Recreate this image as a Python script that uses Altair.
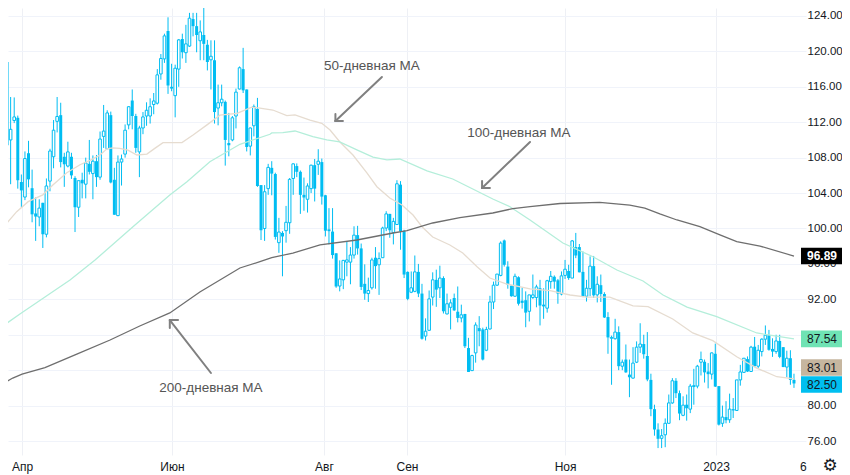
import altair as alt
import pandas as pd

highs = [121.4,120.9,118.8,114.85,114.8,112.75,106.1,108.7,109.9,106.65,
103.5,103.3,102.9,105.65,109,112.25,114.85,114.2,108.55,109.8,
108.55,105.9,105.4,106.3,108,110,108.25,108.3,110.95,113.95,
113.35,113.2,106.85,108.25,108.35,111.75,113.8,115.7,112.95,111.6,
113.15,114.25,114.7,115.3,118,119.7,122,123.85,118.6,118.5,
121.4,122,123,124.35,124.35,124.35,123.5,125.15,121.3,121.25,
121.25,116.25,116.25,114.45,113.05,112.7,115.8,118.3,120.4,115.7,
111.4,114,114.75,104.9,104.9,107.3,107.6,106.3,101.2,99.7,
102.55,105.7,107.35,107.35,106.55,105.75,105.1,107.2,107.85,108.95,
107.9,103.8,102.3,102.3,97.2,96.4,96.45,98.55,97.9,100.25,
100.3,98.3,95.95,94.45,96.7,97.9,97.3,100.2,101.95,101.65,
101.2,105.45,105.35,99.85,95.15,95.15,96.95,96,93.75,89.85,
93,95.05,95.35,95.8,94.6,92.65,92,92.65,93.45,91.4,
90.35,87.65,85.75,89.4,90.1,88.8,88.9,92.4,94,94.85,
98.55,98.75,96.3,93.55,94.9,94.6,93.3,92.9,92.5,94.8,
93.65,94.2,93.25,94.2,95.2,94.7,94.3,95.15,96.45,95.9,
98.7,99.5,98.25,97.4,94.2,96.85,96.9,94.6,94.8,92.8,
90.55,87.9,89.8,88.95,85.2,86.9,85.2,86.6,87.25,89.3,
88,88.3,83.6,80.1,78,77.35,78.55,81.25,83.1,83.1,
81.7,81.05,81.25,82.45,84.15,84.6,86.1,85.2,84.8,86,
87,82.2,80,80.5,81.35,80.85,82.9,84.6,85.35,85.55,
86.75,87.75,86.85,87.6,89.05,88.55,87.6,88,88,86.6,
86.2,86.25,83.6]

lows = [118.1,115.2,109.2,105,111.9,104.5,102.4,103.2,104.65,100.7,
98.6,100.25,97.8,99,104.2,106.8,110.85,106.9,104.7,106.9,
105.6,99.6,101.3,103.4,103.4,106.1,103.3,104.7,105.5,109.1,
109,105.1,101.55,101.4,104.85,108,111.2,111.2,108.55,105.8,
110.65,111.6,111.85,112.9,114,116.8,118.7,115.2,115.5,112.55,
116,119.2,118.7,120.5,121.7,119.9,119,119,117.85,115.7,
111.85,111.65,113.8,107.1,108.15,109.85,111.3,115.7,115.3,108.7,
108.25,110.4,104.7,98.7,98.6,103.8,103.75,98.75,97.25,94.6,
98.4,99.4,103.8,105.8,101.65,102,101.8,104,103.05,106.05,
102.7,99.1,98.2,96.6,93.3,92.9,93.15,94.6,93.7,96.6,
97.05,93.05,91.95,91.7,93.1,93.2,92.5,96.7,99.7,98.95,
98.2,100.4,97.6,94.4,91.9,92.7,92.8,92.25,87.45,87.35,
88.5,91.3,91.15,92.15,90.4,90.3,88.6,90.7,89.4,89.4,
86.5,83.8,83.9,84.85,86.7,85.1,86.15,88.6,90.9,93.5,
94.6,95.7,93.2,92.3,92.3,91.3,90.95,88.85,89.5,92.05,
91.1,89.05,89.8,90.5,93.2,93.2,91.5,92.45,94.3,94.2,
94.4,96.65,95.05,92.25,91.75,92.35,92.15,91.65,91.7,89.9,
85.85,82.35,87.45,84,84,83.7,80.95,83.05,84.8,85.95,
85.3,82.75,78.8,76.6,75.2,75.2,75.3,78,80.2,80.85,
78.35,78.8,78.3,79.15,80.1,81.95,83.4,82.6,81.95,82.95,
82.1,77.75,77.6,78,78.05,78.6,79.4,82.25,83.7,83.8,
83.85,84.35,84.25,85.55,86.85,86.2,85.5,85.85,85.35,84.35,
83.2,82.35,82]

opens = [121.4,118.76,118.8,110,112.2,112.5,105.25,103.55,108.5,104.55,
101.7,101.3,102.9,99.35,105.35,108.1,112.1,112.8,108.1,107.05,
108.1,105.7,102.4,105.5,105,107.3,106.2,107.6,105.8,110.4,
109,112.8,105.5,101.45,107.5,108.4,111.7,114.45,112.7,108.65,
111.35,112.7,112.7,114,114.15,117.45,119.15,122.3,116,115,
118,121.4,119.85,120.6,123.65,122.85,121.2,121.85,120.75,119.05,
119,113.6,114.2,114.3,109.65,110,112.7,115.75,118,115.7,
109.3,111.6,113.5,104.9,100,104.5,106.85,106.15,98.4,99.5,
99.75,100.65,105.65,107.05,106.4,103.8,103.3,104.5,107.15,107.25,
107.5,103.75,99.9,99.65,97.2,93.5,94.2,96.2,96.2,97,
99.25,97.75,93.75,92.65,93.3,96.7,95.9,96.7,100.05,101.65,
99.55,100.45,104.95,99.7,95.1,92.8,92.9,95.1,92.65,87.85,
88.5,92.25,94.2,93.3,94.4,90.35,91.1,92.15,90.6,89.9,
90.35,86.5,83.95,85.95,88.75,88.6,86.25,88.65,91.7,93.6,
94.7,98.65,95.7,93.55,92.35,94.5,91.85,91.9,90.65,92.2,
92.2,93.25,91.4,91,94,94.55,94.15,92.6,94.7,95.2,
94.4,97.9,97.9,95.1,92.35,93.2,95.75,92.5,93.6,92.6,
90,87.6,87.55,88.3,84.45,85.2,83.5,83.1,84.9,86.6,
86.95,85.6,82.9,79.6,77.3,76.3,76.7,78,80.3,82.8,
81.4,78.9,80.1,79.6,82.15,82.2,84.9,84.95,83.85,83.55,
85.85,82.2,78,78.7,78.4,79.6,79.45,82.9,83.75,85.25,
83.85,86.65,84.45,86.1,87.5,87.95,86.4,86.1,87.3,86.6,
84.35,85.35,82.9]

closes = [118.8,119.25,109.4,111.2,112.6,105.45,104.3,107.9,105.55,101.6,
101.35,102.3,99.35,104.8,108.75,111.1,112.65,107.5,107.25,108.65,
106,102.4,105.4,105.1,107.4,106.4,107.6,105.8,110.1,111,
113.05,105.2,101.55,107.5,107.85,111.1,113.75,112.7,109.1,111.35,
112.6,113.35,113.75,114.4,117.35,119.2,121.75,116.15,115.8,118.1,
121.3,119.9,120.85,123.75,122.85,121.85,122.2,120.85,118.8,119.45,
113.15,114.2,114.6,110,109.4,112.5,115.4,118.15,115.6,109.2,
111.35,113.75,104.8,99.8,104.15,106.9,106.2,99.05,99.6,99.1,
100.7,105.55,107.3,106.4,103.8,103.5,104.8,107.15,104.5,107.6,
103.6,99.75,99.7,97,93.45,94.3,96.4,96.45,97,99.25,
97.75,93.4,92.65,93,96.45,95.75,96.6,100.05,101.65,99.8,
100.8,105.05,99.7,94.8,92.05,93.3,95.1,92.65,87.55,88.4,
92.05,94.2,93.1,94.4,90.65,91.5,91.6,90.75,89.9,90.25,
86.7,83.8,85.65,89.1,88.4,85.2,88.6,91.7,93.6,94.85,
98.35,95.9,93.65,92.35,94.6,91.5,91.6,90.5,92.5,92.5,
93.4,91.3,91.2,94.1,94.6,94,92.65,94.65,95.4,94.4,
98.6,96.95,95.05,92.35,93.25,95.75,92.45,93.7,92.6,89.95,
87.7,87.7,88.3,84.45,84.9,83.75,83.2,84.8,86.6,86.95,
85.8,82.95,79.6,77.3,76.25,76.6,78,80.3,82.8,81.4,
79.1,80.05,79.7,82.2,82.25,84.45,85.2,83.75,83.55,85.95,
82.15,77.85,78.7,78.35,79.6,79.45,82.9,83.8,85.35,83.85,
86.6,84.45,86.25,87.5,87.95,86.3,86.1,87.3,85.5,84.35,
85.35,82.9,82.5]

ma50_session = [0,1.9,4.7,7.9,12,14.8,18.7,22.4,25.2,28,29.9,31.6,33.5,35.8,38.3,41.1,43.3,45.6,50.9,54,57.9,61.5,66.3,70.4,72.7,76.3,80.2,82.5,86.7,90,92.3,95,98.7,102.6,105.4,109,112.4,115.5,118,121,125.8,129.4,133.4,137,141.7,148.2,153.8,159.4,164.1,170.5,177,181.2,188.1,193.7,199.3,206,211.6,217.2,222]
ma50_value = [99.46,100.6,101.9,103.03,103.8,104.9,106.3,107.2,107.7,108.3,109,109.1,109.05,108.85,108.3,108.4,109.05,109.7,109.7,110.55,111.7,112.8,113,113.7,113.6,113.38,112.74,112.82,112.25,111.88,111.12,109.8,108.3,106.27,104.72,103.44,102.65,101.52,100.2,99.04,98.14,97.23,95.69,94.41,93.73,93.17,92.98,92.49,92.26,92.26,91.25,91.17,89.78,88.2,87.33,85.52,84.24,83.26,83.01]

ma100_session = [0,5.6,12.6,19.6,26.6,37.2,47.5,52.3,58.7,67.1,75.5,76,79.1,82.5,87.5,91.4,95,99.8,104.3,108.2,111.8,119.4,126.6,132.2,137.8,142.6,148.2,157.4,165.8,172.5,179.8,185.4,192.1,200.4,211.6,222]
ma100_value = [88.76,90.34,92.26,94.18,96.44,100.2,103.78,105.29,107.54,109.51,110.64,110.79,110.82,111.01,110.37,110,109.77,108.87,108.07,107.74,107.85,106.5,105.59,104.46,103.33,102.46,100.96,98.36,96.81,95.31,94.07,92.49,91.13,90.04,88.2,87.54]

ma200_session = [0,3.6,6.2,12.6,21.5,30.8,39.1,47.5,55.9,67.1,72.7,76,81.9,89.5,99.8,109.9,113.8,121,128.6,137.8,143.4,148.2,156.6,167.7,176.1,180.3,184.5,189.3,195.7,201.3,206,212.5,222]
ma200_value = [82.32,83.11,83.56,84.28,85.82,87.41,88.99,90.46,92.83,95.54,96.25,96.7,97.23,98.14,98.7,99.49,99.75,100.62,101.22,101.75,102.24,102.46,102.82,102.94,102.65,102.31,101.64,100.96,100.2,99.27,98.51,98.02,96.89]

month_ticks = [6.2, 48.1, 90.6, 113.8, 158, 200.2, 224.5]
month_names = ["Апр", "Июн", "Авг", "Сен", "Ноя", "2023", "6"]
price_ticks = [76, 80, 84, 88, 92, 96, 100, 104, 108, 112, 116, 120, 124]

tag_texts = ["96.89", "87.54", "83.01", "82.50"]
tag_centers = [96.89, 87.54, 84.3, 82.38]
tag_fills = ["#000000", "#6fe3b4", "#c6b69f", "#00bff0"]
tag_inks = ["#ffffff", "#131722", "#131722", "#131722"]
tag_weights = ["bold", "normal", "normal", "normal"]

note_texts = ["50-дневная МА", "100-дневная МА", "200-дневная МА"]
note_session = [104, 145.1, 59]
note_price = [118.35, 110.8, 82.0]

arrow_x = [106.8, 93.8, 93.8, 93.8, 148.2, 134.8, 134.8, 134.8, 59, 47.5, 47.5, 47.5]
arrow_x2 = [93.8, 93.8, 93.8, 95.9, 134.8, 134.8, 134.8, 137, 47.5, 47.5, 47.5, 49.8]
arrow_y = [117.11, 112.14, 112.14, 112.14, 109.77, 104.57, 104.57, 104.57, 83.68, 89.66, 89.66, 89.66]
arrow_y2 = [112.14, 112.14, 112.93, 112.14, 104.57, 104.57, 105.36, 104.57, 89.66, 89.66, 88.76, 89.66]

BLUE = "#00bdf2"
FONT = "Liberation Sans"

candles = pd.DataFrame({"i": range(len(highs)), "h": highs, "l": lows, "o": opens, "c": closes})
rising = candles[candles.c >= candles.o]
falling = candles[candles.c < candles.o]

xs = alt.Scale(domain=[2.264, 225.36], nice=False, zero=False, padding=0)
ys = alt.Scale(domain=[74.42, 124.9], nice=False, zero=False, padding=0)
label_map = "{" + ",".join(f"'{v}':'{n}'" for v, n in zip(month_ticks, month_names)) + "}"

x_axis = alt.Axis(
    values=month_ticks, title=None, domain=False, ticks=False, labelFont=FONT, labelFontSize=12,
    labelColor="#131722", labelPadding=6, labelOverlap=False, labelFlush=False, labelBound=False,
    labelExpr=f"{label_map}[''+datum.value]", grid=True, gridColor="#eef0f5",
    gridOpacity={"condition": {"test": "datum.value > 220", "value": 0}, "value": 1},
)
y_axis = alt.Axis(
    values=price_ticks, title=None, orient="right", domain=False, ticks=False,
    labelExpr="datum.value == 84 || datum.value == 88 ? '' : format(datum.value, '.2f')",
    labelFont=FONT, labelFontSize=11.5, labelColor="#131722", labelPadding=1, labelOverlap=False,
    labelBound=False, labelFlush=False, grid=True, gridColor="#f0f3fa",
)


def X(field):
    return alt.X(field, scale=xs, axis=x_axis)


def Y(field):
    return alt.Y(field, scale=ys, axis=y_axis)


wicks = alt.Chart(candles).mark_rule(color=BLUE, strokeWidth=1, clip=True).encode(
    x=X("i:Q"), y=Y("l:Q"), y2="h:Q"
)
down = alt.Chart(falling).mark_bar(color=BLUE, size=3, clip=True).encode(
    x=X("i:Q"), y=Y("o:Q"), y2="c:Q"
)
up = alt.Chart(rising).mark_bar(fill="#ffffff", stroke=BLUE, strokeWidth=1, size=2.6, clip=True).encode(
    x=X("i:Q"), y=Y("o:Q"), y2="c:Q"
)


def ma_line(sessions, values, color, width):
    frame = pd.DataFrame({"i": sessions, "v": values})
    return alt.Chart(frame).mark_line(color=color, strokeWidth=width, clip=True).encode(
        x=X("i:Q"), y=Y("v:Q"), order="i:Q"
    )


line50 = ma_line(ma50_session, ma50_value, "#e6dcd0", 1.3)
line100 = ma_line(ma100_session, ma100_value, "#b4eeda", 1.3)
line200 = ma_line(ma200_session, ma200_value, "#6e6e6e", 1.3)

arrows = alt.Chart(pd.DataFrame({"x": arrow_x, "x2": arrow_x2, "y": arrow_y, "y2": arrow_y2})).mark_rule(
    color="#808080", strokeWidth=2, strokeCap="round"
).encode(x=X("x:Q"), x2="x2:Q", y=Y("y:Q"), y2="y2:Q")

notes = alt.Chart(pd.DataFrame({"i": note_session, "p": note_price, "t": note_texts})).mark_text(
    font=FONT, fontSize=13.5, color="#555555", align="center", baseline="middle"
).encode(x=X("i:Q"), y=Y("p:Q"), text="t:N")

tags = pd.DataFrame({"t": tag_texts, "c": tag_centers, "fill": tag_fills, "ink": tag_inks, "w": tag_weights})
tags["top"] = tags.c + 0.94
tags["bot"] = tags.c - 0.94
tag_boxes = alt.Chart(tags).mark_rect().encode(
    x=alt.value(793), x2=alt.value(834),
    y=Y("top:Q"), y2="bot:Q",
    color=alt.Color("fill:N", scale=None, legend=None),
)
tag_plain = alt.Chart(tags[tags.w == "normal"]).mark_text(font=FONT, fontSize=12, align="center", baseline="middle").encode(
    x=alt.value(814), y=Y("c:Q"), text="t:N",
    color=alt.Color("ink:N", scale=None, legend=None),
)
tag_bold = alt.Chart(tags[tags.w == "bold"]).mark_text(font=FONT, fontSize=12, fontWeight="bold", align="center", baseline="middle").encode(
    x=alt.value(814), y=Y("c:Q"), text="t:N",
    color=alt.Color("ink:N", scale=None, legend=None),
)
gear = alt.Chart(pd.DataFrame({"t": ["⚙"]})).mark_text(
    font="DejaVu Sans", fontSize=17, color="#131722", align="center", baseline="middle"
).encode(x=alt.value(822), y=alt.value(458), text="t:N")

chart = alt.layer(
    wicks, down, up, line50, line100, line200, arrows, notes, tag_boxes, tag_plain, tag_bold, gear
).properties(
    width=798, height=447,
    padding={"left": 0, "right": 36, "top": 0, "bottom": 20},
    autosize=alt.AutoSizeParams(type="none"),
    background="#ffffff",
).configure_view(stroke=None)

chart.save("out.html", embed_options={"renderer": "svg", "actions": False})
